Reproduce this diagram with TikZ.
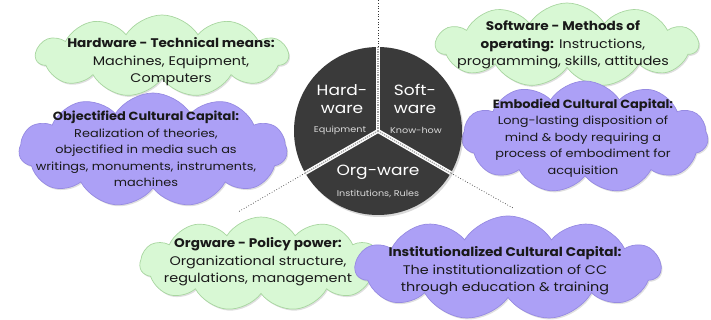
\documentclass[tikz,border=0pt]{standalone}
\usepackage{fontspec}
\setmainfont{Poppins}[FakeStretch=1.15, BoldFeatures={FakeStretch=1.09}]
\usetikzlibrary{shapes.symbols,shadows}
\definecolor{cgreen}{RGB}{216,248,212}
\definecolor{cgreenedge}{RGB}{168,214,160}
\definecolor{cpurple}{RGB}{172,160,246}
\definecolor{cpurpleedge}{RGB}{150,138,226}
\definecolor{wheelgray}{RGB}{58,58,58}
\definecolor{txtdark}{RGB}{25,25,25}
\begin{document}
\begin{tikzpicture}[x=1pt,y=-1pt,
  cloudbase/.style={cloud, cloud puffs=11, cloud puff arc=115, cloud ignores aspect,
    inner sep=0pt, line width=0.7pt,
    drop shadow={shadow xshift=1.2pt, shadow yshift=-1.5pt, opacity=0.25}},
  greencloud/.style={cloudbase, fill=cgreen, draw=cgreenedge},
  purplecloud/.style={cloudbase, fill=cpurple, draw=cpurpleedge},
  txt/.style={align=center, text=txtdark, inner sep=0pt, font=\fontsize{12.5}{17.4}\selectfont},
  txtsmall/.style={align=center, text=txtdark, inner sep=0pt, font=\fontsize{11.2}{16.6}\selectfont},
  bigw/.style={align=center, text=white, inner sep=0pt, font=\fontsize{14.8}{18.5}\selectfont},
  smallw/.style={align=center, text=white!85!black, inner sep=0pt, font=\fontsize{8.4}{9}\selectfont},
  sep/.style={white, line width=4pt},
  sepdots/.style={gray!70, line width=1.3pt, densely dotted},
  guide/.style={black!80, line width=0.7pt, dotted}
]
\useasboundingbox (0,0) rectangle (711,320);

% outer dotted guide lines
\coordinate (topend) at (378,0);
\coordinate (blend) at (238,212);
\coordinate (brend) at (513,208);

% clouds
\node[greencloud, minimum width=252, minimum height=82] (hwcloud) at (162,56) {};
\node[purplecloud, minimum width=268, minimum height=114] (occloud) at (153,150) {};
\node[greencloud, minimum width=262, minimum height=84] (swcloud) at (567,45) {};
\node[purplecloud, minimum width=246, minimum height=112] (eccloud) at (585,137) {};
\node[greencloud, minimum width=242, minimum height=94] (owcloud) at (261,264) {};
\node[purplecloud, minimum width=305, minimum height=104] (iccloud) at (508,268) {};

% cloud texts
\node[txt] (hwtext) at (171,62) {\textbf{Hardware - Technical means:}\\Machines, Equipment,\\Computers};
\node[txtsmall] (octext) at (146,149) {{\fontsize{11.9}{16.6}\selectfont\bfseries Objectified Cultural Capital:}\\Realization of theories,\\objectified in media such as\\writings, monuments, instruments,\\machines};
\node[txt] (swtext) at (563,45) {\textbf{Software - Methods of}\\\textbf{operating:} Instructions,\\programming, skills, attitudes};
\node[txtsmall] (ectext) at (583,138) {{\fontsize{11.9}{16.6}\selectfont\bfseries Embodied Cultural Capital:}\\Long-lasting disposition of\\mind \& body requiring a\\process of embodiment for\\acquisition};
\node[txt] (owtext) at (258,262) {\textbf{Orgware - Policy power:}\\Organizational structure,\\regulations, management};
\node[txt] (ictext) at (505,271) {\textbf{Institutionalized Cultural Capital:}\\The institutionalization of CC\\through education \& training};

% wheel
\node[circle, minimum size=168, inner sep=0pt, fill=wheelgray,
  drop shadow={shadow xshift=1.5pt, shadow yshift=-2pt, opacity=0.3}] (wheel) at (378,131) {};
\draw[sep] (wheel.center) -- (wheel.90);
\draw[sep] (wheel.center) -- (wheel.210);
\draw[sep] (wheel.center) -- (wheel.330);
\draw[sepdots] (wheel.center) -- (wheel.90);
\draw[sepdots] (wheel.center) -- (wheel.210);
\draw[sepdots] (wheel.center) -- (wheel.330);

\draw[guide] (wheel.90) -- (topend);
\draw[guide] (wheel.210) -- (blend);
\draw[guide] (wheel.330) -- (brend);

% wheel labels
\node[bigw] (hwlab) at (342,99) {Hard-\\ware};
\node[smallw] (hwsub) at (340,130) {Equipment};
\node[bigw] (swlab) at (415,99) {Soft-\\ware};
\node[smallw] (swsub) at (416,130) {Know-how};
\node[bigw] (owlab) at (378,172) {Org-ware};
\node[smallw] (owsub) at (378,194) {Institutions, Rules};
\end{tikzpicture}
\end{document}
